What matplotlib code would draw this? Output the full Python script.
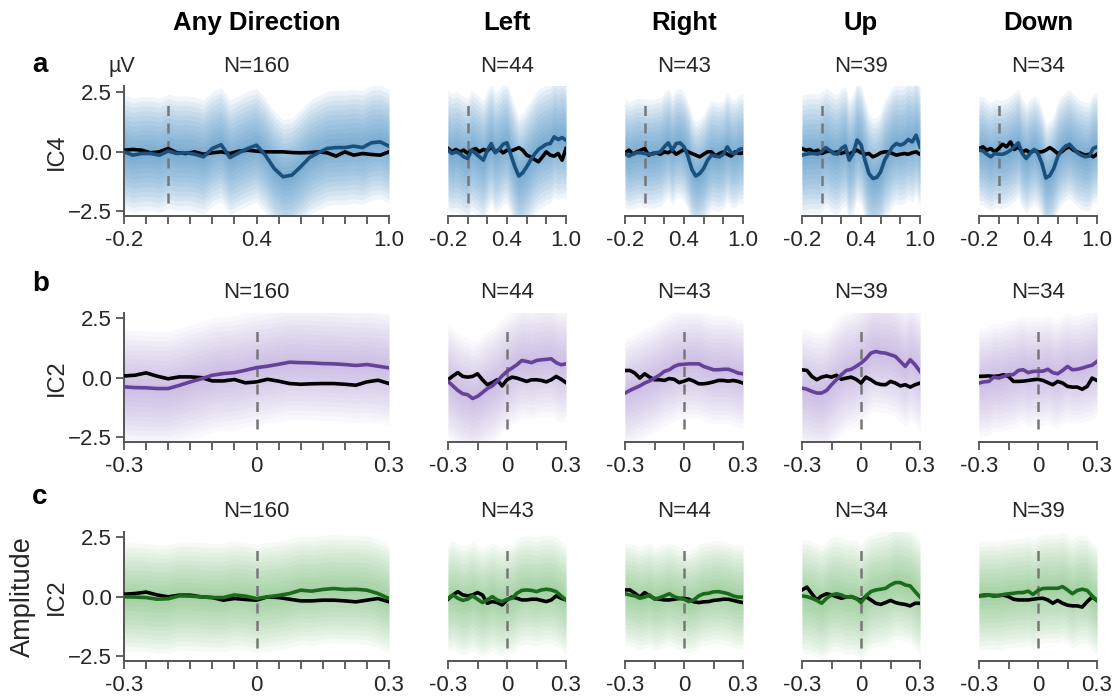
import numpy as np
import matplotlib.pyplot as plt

plt.rcParams['font.family'] = ['Liberation Sans', 'DejaVu Sans']

directions = ['Any Direction', 'Left', 'Right', 'Up', 'Down']
n_ic4 = [160, 44, 43, 39, 34]
n_ic2_dir = [160, 44, 43, 39, 34]
n_ic2_amp = [160, 43, 44, 34, 39]

# sample times (s)
t_a = np.linspace(-0.2, 1.0, 31)
t_bc = np.linspace(-0.3, 0.3, 25)

# row a: IC4 averages (coloured) and control (black), uV
ic4_mean = [
    [0.0, -0.14, -0.07, -0.07, -0.14, 0.03, -0.07, -0.04, -0.1, -0.21, 0.14, 0.3, -0.24, -0.04, 0.14, 0.28,
     -0.14, -0.7, -1.05, -0.98, -0.63, -0.24, -0.04, 0.14, 0.18, 0.18, 0.24, 0.18, 0.38, 0.42, 0.24],
    [0.07, -0.07, 0.0, -0.07, -0.21, -0.28, 0.07, -0.07, -0.21, -0.35, 0.07, 0.35, -0.04, 0.1, 0.32, 0.38,
     -0.14, -0.63, -1.02, -0.88, -0.63, -0.35, -0.1, 0.1, 0.21, 0.32, 0.35, 0.63, 0.52, 0.6, 0.49],
    [-0.07, -0.18, -0.1, -0.04, -0.04, -0.07, -0.1, -0.1, -0.04, 0.0, 0.21, 0.38, 0.07, 0.35, 0.38, 0.21,
     -0.18, -0.74, -1.02, -0.91, -0.7, -0.35, -0.14, -0.18, -0.21, -0.1, 0.21, -0.04, -0.07, 0.1, 0.14],
    [-0.14, -0.1, -0.07, -0.07, -0.1, 0.0, 0.18, 0.07, -0.07, -0.1, 0.14, 0.25, -0.35, -0.07, 0.5, 0.3,
     -0.35, -0.91, -1.12, -1.08, -0.84, -0.35, -0.07, 0.21, 0.35, 0.28, 0.35, 0.52, 0.42, 0.7, 0.21],
    [0.07, 0.04, -0.1, -0.21, -0.07, -0.1, -0.1, -0.04, 0.07, 0.21, 0.38, -0.07, -0.28, -0.07, 0.1, -0.07,
     -0.49, -1.1, -1.0, -0.7, -0.21, 0.07, 0.24, 0.32, 0.14, -0.04, -0.14, -0.21, -0.18, 0.14, 0.21],
]
ic4_ctrl = [
    [0.07, 0.1, 0.07, -0.04, 0.0, 0.14, -0.04, -0.07, 0.0, -0.1, -0.04, 0.0, -0.07, 0.03, 0.07, 0.03,
     0.0, 0.0, 0.0, -0.03, -0.04, -0.03, 0.0, -0.04, -0.18, 0.0, -0.14, -0.07, -0.11, -0.14, 0.0],
    [0.14, 0.0, 0.1, 0.0, 0.07, -0.07, 0.07, 0.14, 0.0, 0.1, 0.04, 0.21, 0.0, 0.1, -0.04, 0.07,
     0.04, 0.1, 0.18, 0.07, -0.14, -0.21, -0.32, -0.42, -0.21, 0.0, -0.14, -0.18, -0.07, -0.35, 0.14],
    [-0.04, 0.07, -0.1, 0.0, 0.07, 0.14, -0.14, -0.07, -0.04, -0.1, 0.0, -0.04, 0.07, -0.1, 0.0, 0.1,
     0.0, -0.07, -0.14, -0.21, -0.1, 0.0, 0.0, -0.18, -0.07, 0.0, -0.1, -0.18, 0.0, -0.07, -0.04],
    [0.14, 0.07, 0.1, 0.0, 0.07, -0.07, 0.0, 0.04, -0.04, 0.0, -0.07, 0.0, -0.1, 0.0, 0.07, -0.04,
     -0.1, -0.07, -0.21, -0.14, -0.04, 0.0, 0.0, -0.07, -0.14, -0.1, -0.07, -0.1, -0.04, 0.0, -0.1],
    [0.14, 0.21, 0.07, 0.14, 0.0, 0.14, 0.32, 0.21, 0.42, 0.1, 0.21, 0.0, 0.07, -0.04, 0.07, 0.0,
     0.0, 0.07, 0.18, 0.07, -0.07, 0.0, 0.14, 0.21, 0.07, 0.0, -0.07, -0.14, -0.1, -0.21, -0.1],
]

# row b: IC2 by direction
ic2_dir_mean = [
    [-0.38, -0.41, -0.42, -0.45, -0.45, -0.32, -0.17, -0.04, 0.11, 0.18, 0.22, 0.32, 0.43, 0.49, 0.57,
     0.66, 0.64, 0.63, 0.6, 0.59, 0.56, 0.52, 0.56, 0.49, 0.42],
    [-0.15, -0.34, -0.53, -0.67, -0.71, -0.87, -0.78, -0.62, -0.45, -0.34, -0.15, 0.08, 0.27, 0.41, 0.55,
     0.73, 0.69, 0.64, 0.73, 0.76, 0.78, 0.8, 0.64, 0.55, 0.59],
    [-0.64, -0.53, -0.43, -0.34, -0.22, -0.13, -0.01, 0.11, 0.27, 0.34, 0.48, 0.56, 0.57, 0.59, 0.59,
     0.59, 0.48, 0.41, 0.34, 0.34, 0.36, 0.36, 0.29, 0.2, 0.17],
    [-0.43, -0.48, -0.57, -0.64, -0.64, -0.53, -0.29, -0.08, 0.13, 0.31, 0.36, 0.48, 0.62, 0.8, 1.04,
     1.11, 1.06, 1.04, 0.97, 0.9, 0.69, 0.48, 0.76, 0.55, 0.27],
    [-0.22, -0.17, -0.15, 0.03, -0.01, 0.06, 0.13, 0.14, 0.31, 0.34, 0.22, 0.27, 0.28, 0.28, 0.36,
     0.22, 0.17, 0.31, 0.48, 0.34, 0.36, 0.41, 0.48, 0.53, 0.69],
]
ic2_dir_ctrl = [
    [0.08, 0.11, 0.21, 0.07, -0.04, 0.04, 0.04, 0.01, -0.13, -0.13, -0.07, -0.21, -0.17, -0.06, -0.14,
     -0.24, -0.27, -0.25, -0.24, -0.24, -0.27, -0.31, -0.17, -0.1, -0.24],
    [-0.08, 0.08, 0.22, 0.06, 0.03, 0.06, 0.17, -0.08, -0.29, -0.2, -0.08, -0.34, -0.08, 0.03, -0.01,
     -0.08, -0.15, -0.08, -0.08, -0.11, -0.17, -0.08, 0.06, -0.06, -0.2],
    [0.31, 0.31, 0.2, -0.01, 0.17, 0.03, -0.08, -0.08, -0.11, -0.03, -0.06, -0.2, -0.14, -0.06, -0.14,
     -0.25, -0.25, -0.22, -0.17, -0.11, -0.11, -0.14, -0.11, -0.15, -0.22],
    [0.34, 0.31, 0.06, -0.08, 0.03, 0.08, 0.03, 0.11, -0.06, -0.01, 0.03, -0.06, -0.22, 0.03, -0.08,
     -0.22, -0.28, -0.29, -0.15, -0.22, -0.34, -0.29, -0.39, -0.29, -0.22],
    [0.06, 0.07, 0.08, 0.06, 0.08, 0.13, 0.06, -0.15, -0.15, -0.14, -0.11, -0.08, -0.06, -0.11, -0.2,
     -0.29, -0.15, -0.22, -0.36, -0.39, -0.39, -0.48, -0.36, -0.01, -0.11],
]

# row c: IC2 by amplitude
ic2_amp_mean = [
    [0.0, -0.01, -0.03, -0.1, -0.08, 0.04, 0.03, 0.0, -0.03, -0.03, 0.08, 0.03, -0.07, 0.0, 0.06,
     0.14, 0.28, 0.24, 0.31, 0.35, 0.31, 0.32, 0.28, 0.14, -0.07],
    [-0.06, 0.08, -0.06, -0.15, -0.1, 0.04, -0.1, -0.24, -0.13, 0.01, -0.13, -0.2, -0.1, -0.06, 0.15,
     0.27, 0.29, 0.27, 0.22, 0.29, 0.32, 0.29, 0.22, 0.04, -0.13],
    [0.13, 0.08, 0.04, -0.06, -0.01, 0.08, -0.1, -0.04, 0.04, 0.13, 0.01, -0.06, -0.1, -0.2, -0.13,
     0.04, 0.13, 0.15, 0.21, 0.22, 0.18, 0.13, 0.04, -0.01, -0.01],
    [0.04, 0.01, -0.06, -0.15, -0.27, -0.06, 0.08, 0.13, 0.08, -0.01, 0.01, -0.06, -0.24, 0.04, 0.22,
     0.29, 0.32, 0.36, 0.5, 0.6, 0.6, 0.5, 0.46, 0.22, -0.01],
    [0.04, 0.04, 0.07, 0.07, 0.04, 0.1, 0.13, 0.15, 0.18, 0.18, 0.24, 0.1, 0.27, 0.35, 0.36,
     0.36, 0.36, 0.43, 0.29, 0.13, 0.27, 0.32, 0.27, 0.04, -0.15],
]
ic2_amp_ctrl = [
    [0.11, 0.14, 0.2, 0.08, 0.0, 0.07, 0.07, 0.0, -0.03, -0.14, -0.07, -0.11, -0.14, 0.0, -0.03,
     -0.1, -0.17, -0.17, -0.14, -0.14, -0.17, -0.21, -0.14, -0.07, -0.21],
    [-0.1, 0.08, 0.22, 0.08, 0.04, 0.08, 0.18, 0.08, -0.27, -0.2, -0.24, -0.34, -0.13, -0.01, -0.06,
     -0.13, -0.13, -0.1, -0.1, -0.15, -0.2, -0.13, 0.04, -0.06, -0.13],
    [0.29, 0.29, 0.15, -0.01, 0.18, 0.04, -0.07, -0.1, -0.13, -0.13, -0.1, -0.07, -0.06, -0.1, -0.21,
     -0.24, -0.21, -0.2, -0.15, -0.13, -0.1, -0.1, -0.15, -0.2, -0.24],
    [0.29, 0.41, 0.13, -0.13, 0.04, 0.13, 0.08, 0.01, -0.06, -0.01, 0.01, -0.07, -0.15, 0.01, -0.13,
     -0.27, -0.32, -0.24, -0.15, -0.24, -0.29, -0.32, -0.38, -0.27, -0.27],
    [0.04, 0.07, 0.07, 0.04, 0.06, 0.07, 0.01, -0.1, -0.13, -0.13, -0.13, -0.1, -0.07, -0.06, -0.13,
     -0.27, -0.15, -0.27, -0.35, -0.38, -0.38, -0.43, -0.2, -0.01, -0.15],
]

# single-trial spread (sd) per panel
sd_ic4 = [1.0, 1.05, 0.95, 1.05, 0.95]
sd_ic2_dir = [1.0, 1.0, 0.95, 1.05, 0.95]
sd_ic2_amp = [0.95, 0.95, 0.9, 1.0, 0.95]

W, H = 1117, 696
fig = plt.figure(figsize=(W / 100, H / 100), dpi=100)

col_px = [(124, 389), (448, 566), (625, 743), (802, 920), (979, 1097)]
row_px = [(86.5, 216), (312.5, 442), (531.5, 661)]
YLIM = (-2.7, 2.75)
SPINE = '#555555'
TXT = '#262626'

rows = [
    dict(t=t_a, mean=ic4_mean, ctrl=ic4_ctrl, sd=sd_ic4, n=n_ic4, ylab='IC4',
         line='#1b4f7c', cloud='#2f7ebc', alpha=0.075),
    dict(t=t_bc, mean=ic2_dir_mean, ctrl=ic2_dir_ctrl, sd=sd_ic2_dir, n=n_ic2_dir, ylab='IC2',
         line='#65429a', cloud='#9272c8', alpha=0.045),
    dict(t=t_bc, mean=ic2_amp_mean, ctrl=ic2_amp_ctrl, sd=sd_ic2_amp, n=n_ic2_amp, ylab='IC2',
         line='#1c6b1c', cloud='#4aa84a', alpha=0.05),
]
levels = np.arange(0.2, 2.41, 0.2)


def px(x, y):
    return x / W, 1 - y / H


for r, row in enumerate(rows):
    t = row['t']
    for c in range(5):
        l, rr = col_px[c]
        top, bot = row_px[r]
        ax = fig.add_axes([l / W, 1 - bot / H, (rr - l) / W, (bot - top) / H])
        m = np.asarray(row['mean'][c])
        s = row['sd'][c]
        for k in levels:
            ax.fill_between(t, m - k * s, m + k * s, color=row['cloud'], alpha=row['alpha'],
                            lw=0, antialiased=False)
        ax.vlines(0, -2.15, 2.1, colors='#777777', linestyles=(0, (4, 3)), lw=1.8, zorder=3)
        ax.plot(t, row['ctrl'][c], color='black', lw=2.6, zorder=4)
        ax.plot(t, m, color=row['line'], lw=2.6, zorder=5)

        ax.set_xlim(t[0], t[-1])
        ax.set_ylim(*YLIM)
        ax.set_title(f"N={row['n'][c]}", fontsize=16, color=TXT, pad=10.5)

        for side in ('top', 'right'):
            ax.spines[side].set_visible(False)
        for side in ('left', 'bottom'):
            ax.spines[side].set_color(SPINE)
            ax.spines[side].set_linewidth(1.4)
        ax.tick_params(colors=SPINE, labelcolor=TXT, labelsize=16, length=6, width=1.3, direction='out')
        ax.tick_params(axis='x', pad=4)
        ax.tick_params(axis='y', pad=3)

        if r == 0:
            step = 0.1 if c == 0 else 0.2
            ticks = np.round(np.arange(-0.2, 1.0001, step), 2)
            labels = {-0.2: '-0.2', 0.4: '0.4', 1.0: '1.0'}
        else:
            step = 0.05 if c == 0 else 0.15
            ticks = np.round(np.arange(-0.3, 0.3001, step), 2)
            labels = {-0.3: '-0.3', 0.0: '0', 0.3: '0.3'}
        ax.set_xticks(ticks, [labels.get(float(v), '') for v in ticks])

        if c == 0:
            ax.set_yticks([-2.5, 0.0, 2.5])
            ax.set_ylabel(row['ylab'], fontsize=17, color=TXT)
            ax.yaxis.set_label_coords((68 - 124) / 265, 0.5)
        else:
            ax.spines['left'].set_visible(False)
            ax.set_yticks([])

# column headers
for c, name in enumerate(directions):
    l, rr = col_px[c]
    fig.text(*px((l + rr) / 2, 30), name, fontsize=18.5, fontweight='bold', ha='center', va='baseline')

# panel letters
for letter, yb in zip('abc', (72, 291, 504)):
    fig.text(*px(32, yb), letter, fontsize=20, fontweight='bold', ha='left', va='baseline')

fig.text(*px(108, 72), 'µV', fontsize=15.5, color=TXT, ha='left', va='baseline')
fig.text(*px(23, 597), 'Amplitude', fontsize=19.5, color=TXT, rotation=90, ha='center', va='center')

fig.savefig('out.png', dpi=100)
